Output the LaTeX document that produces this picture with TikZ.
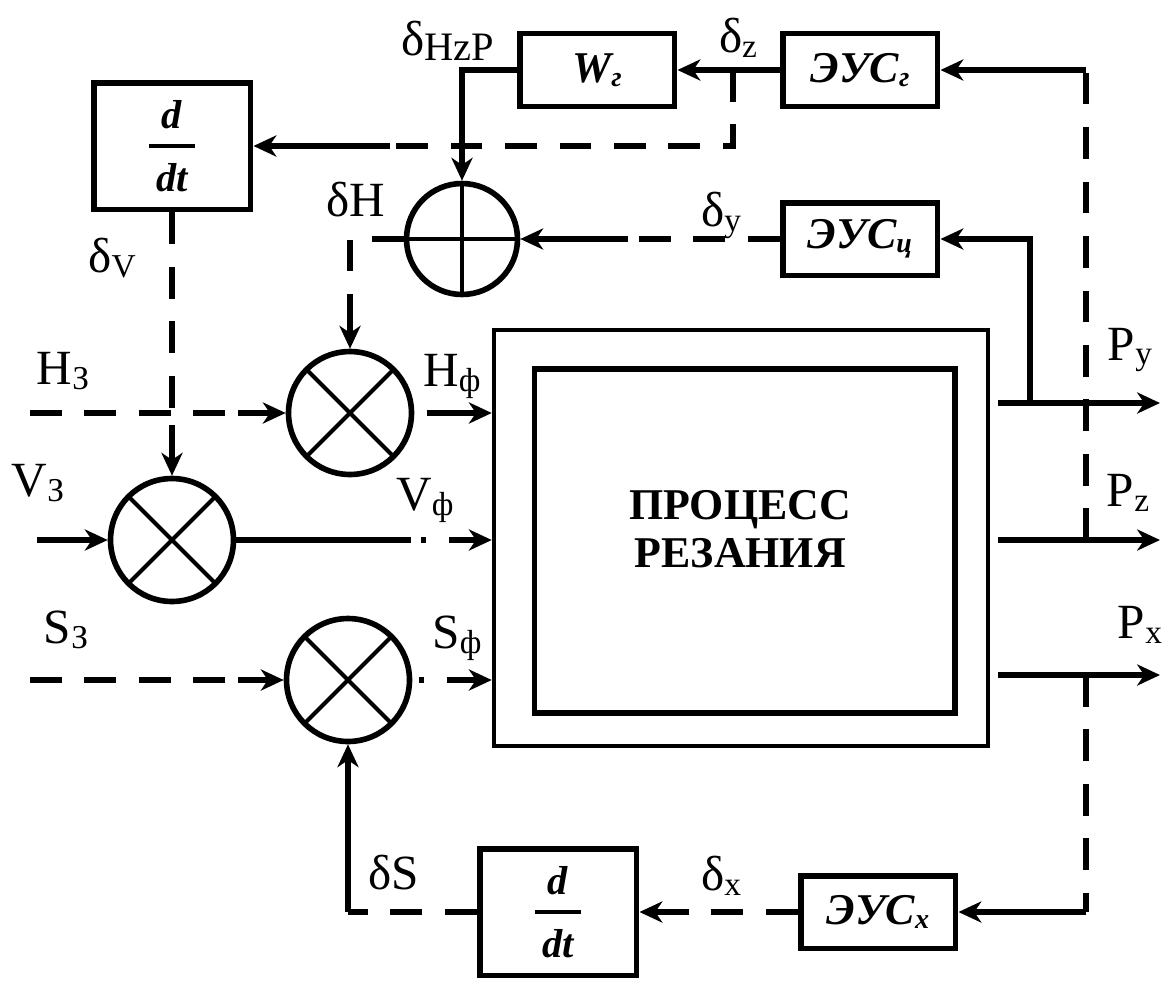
\documentclass[tikz,border=0pt]{standalone}
\usepackage{fontspec}
\setmainfont{Liberation Serif}[BoldFont={Liberation Serif Bold}, ItalicFont={Liberation Serif Italic}, BoldItalicFont={Liberation Serif Bold Italic}]
\usepackage{tikz}
\usetikzlibrary{shapes.geometric, arrows.meta}
\newcommand{\idx}[2][19]{\raisebox{-0.1em}{\fontsize{#1}{#1}\selectfont #2}}
\tikzstyle{block} = [rectangle, draw=black, line width=3.4pt, minimum width=3.1cm, minimum height=1.46cm, text centered, font=\fontsize{25}{28}\selectfont\bfseries\itshape]
\tikzstyle{deriv} = [block, minimum width=3.14cm, minimum height=2.54cm, align=center, font=\fontsize{23}{18}\selectfont\bfseries\itshape]
\tikzstyle{mult} = [circle, draw=black, line width=3.2pt, minimum size=2.46cm, path picture={\draw[line width=2.3pt] (path picture bounding box.north west) -- (path picture bounding box.south east) (path picture bounding box.south west) -- (path picture bounding box.north east);}]
\tikzstyle{summer} = [circle, draw=black, line width=3.2pt, minimum size=2.22cm, path picture={\draw[line width=2.3pt] (path picture bounding box.north) -- (path picture bounding box.south) (path picture bounding box.west) -- (path picture bounding box.east);}]
\tikzstyle{arrow} = [line width=3.7pt,->,>={Stealth[length=13pt,width=12pt,inset=4pt]}]
\tikzstyle{dashline} = [line width=3.7pt, dash pattern=on 18pt off 13pt]
\tikzstyle{lbl} = [inner sep=0pt, font=\fontsize{28}{30}\selectfont]

\begin{document}
\begin{tikzpicture}[x=0.02cm, y=-0.02cm]
\useasboundingbox (0,0) rectangle (1166,981);

% Blocks
\node (ddtTop) [deriv] at (172,146) {d\\\rule[7pt]{0.92cm}{0.065cm}\\dt};
\node (Wg) [block] at (597,70) {W\idx[16]{г}};
\node (EUSg) [block] at (860,70) {ЭУС\idx[16]{г}};
\node (EUSc) [block] at (860,239) {ЭУС\idx[16]{ц}};
\node (EUSx) [block] at (878,912) {ЭУС\idx[16]{x}};
\node (ddtBot) [deriv] at (558,912) {d\\\rule[7pt]{0.92cm}{0.065cm}\\dt};

% Summer and multipliers
\node (sum) [summer] at (462,239) {};
\node (mulH) [mult] at (350,413) {};
\node (mulV) [mult] at (172,540) {};
\node (mulS) [mult] at (348,680) {};

% Cutting process
\node (procOut) [rectangle, draw=black, line width=2.6pt, minimum width=9.88cm, minimum height=8.32cm] at (741,538) {};
\node (procIn) [rectangle, draw=black, line width=2.9pt, minimum width=8.42cm, minimum height=6.88cm] at (744.5,541) {};
\node (procText) [align=center, font=\fontsize{25}{27}\selectfont\bfseries] at (740,529) {ПРОЦЕСС\\РЕЗАНИЯ};

% Free ends and bends
\coordinate (inH) at (30,413);
\coordinate (inV) at (37,540);
\coordinate (inS) at (30,680);
\coordinate (kneeH3) at (238,413);
\coordinate (kneeS3) at (238,680);
\coordinate (tapZ) at (733,70);
\coordinate (kneeZ) at (390,146);
\coordinate (kneeY) at (628,239);
\coordinate (kneeH) at (350,305);
\coordinate (kneeV) at (172,425);
\coordinate (outY) at (1160,403);
\coordinate (outZ) at (1160,540);
\coordinate (outX) at (1160,675);
\coordinate (tapY) at (1030,403);
\coordinate (tapZo) at (1086,540);
\coordinate (cornerG) at (1086,70);
\coordinate (tapX) at (1086,675);
\coordinate (cornerX) at (1086,912);
\coordinate (kneeX) at (683,912);
\coordinate (cornerS) at (348,912);

% Labels
\node (lblHzP) [lbl] at (448,41) {δ\idx[23]{HzP}};
\node (lblZ) [lbl] at (738,38) {δ\idx{z}};
\node (lblY) [lbl] at (721,215) {δ\idx{y}};
\node (lblH) [lbl] at (356,200) {δH};
\node (lblV) [lbl] at (112,258) {δ\idx{V}};
\node (lblH3) [lbl] at (63,371) {H\idx{З}};
\node (lblV3) [lbl] at (38,483) {V\idx{З}};
\node (lblS3) [lbl] at (66,630) {S\idx{З}};
\node (lblHf) [lbl] at (452,376) {H\idx{ф}};
\node (lblVf) [lbl] at (425,500) {V\idx{ф}};
\node (lblSf) [lbl] at (457,638) {S\idx{ф}};
\node (lblS) [lbl] at (394,873) {δS};
\node (lblX) [lbl] at (721,876) {δ\idx{x}};
\node (lblPy) [lbl] at (1130,350) {P\idx{y}};
\node (lblPz) [lbl] at (1128,493) {P\idx{z}};
\node (lblPx) [lbl] at (1140,625) {P\idx{x}};

% Arrows between nodes
\draw [arrow] (EUSg) -- (Wg);
\draw [arrow] (Wg.west) -| (sum.north);
\draw [dashline] (tapZ) |- (kneeZ);
\draw [arrow] (kneeZ) -- (ddtTop);
\draw [dashline] (EUSc) -- (kneeY);
\draw [arrow] (kneeY) -- (sum);
\draw [dashline] (sum) -| (kneeH);
\draw [arrow] (kneeH) -- (mulH);
\draw [dashline] (ddtTop) -- (kneeV);
\draw [arrow] (kneeV) -- (mulV);

\draw [dashline] (inH) -- (kneeH3);
\draw [arrow] (kneeH3) -- (mulH);
\draw [arrow] (inV) -- (mulV);
\draw [dashline] (inS) -- (kneeS3);
\draw [arrow] (kneeS3) -- (mulS);

\draw [arrow, shorten <=7pt] (mulH) -- (mulH -| procOut.west);
\draw [arrow, dash pattern=on 99.6pt off 5.7pt on 2.8pt off 13pt on 300pt] (mulV) -- (mulV -| procOut.west);
\draw [arrow, shorten <=4pt, dash pattern=on 2.8pt off 13pt on 300pt] (mulS) -- (mulS -| procOut.west);

\draw [arrow, shorten <=4.5pt] (procOut.east |- outY) -- (outY);
\draw [arrow, shorten <=4.5pt] (procOut.east |- outZ) -- (outZ);
\draw [arrow, shorten <=4.5pt] (procOut.east |- outX) -- (outX);

\draw [arrow] (tapY) |- (EUSc);
\draw [dashline] (tapZo) -- (cornerG);
\draw [arrow] (cornerG) -- (EUSg);
\draw [dashline] (tapX) -- (cornerX);
\draw [arrow] (cornerX) -- (EUSx);
\draw [dashline] (EUSx) -- (kneeX);
\draw [arrow] (kneeX) -- (ddtBot);
\draw [dashline] (ddtBot) -- (cornerS);
\draw [arrow] (cornerS) -- (mulS);

\end{tikzpicture}
\end{document}
